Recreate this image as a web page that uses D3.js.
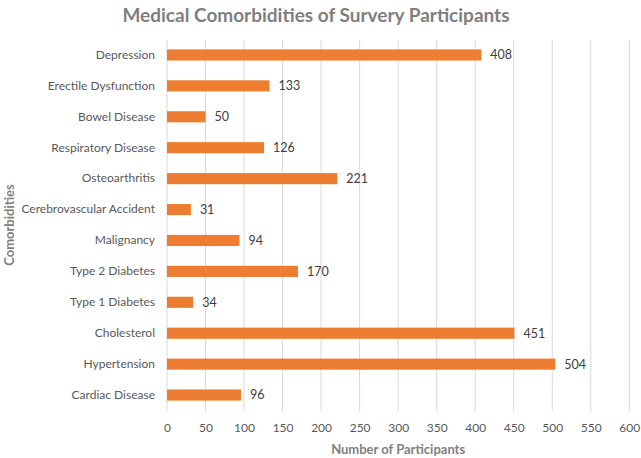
<!DOCTYPE html>
<html><head><meta charset="utf-8">
<script src="https://cdn.jsdelivr.net/npm/d3@7"></script>
<style>body{margin:0;background:#fff}text{font-family:Lato,"Open Sans",sans-serif}</style>
</head><body><svg id="c" width="641" height="458"></svg>
<script>
const categories = ["Depression","Erectile Dysfunction","Bowel Disease","Respiratory Disease","Osteoarthritis","Cerebrovascular Accident","Malignancy","Type 2 Diabetes","Type 1 Diabetes","Cholesterol","Hypertension","Cardiac Disease"];
const values = [408,133,50,126,221,31,94,170,34,451,504,96];
const xTicks = [0,50,100,150,200,250,300,350,400,450,500,550,600];
const title = "Medical Comorbidities of Survery Participants";
const xTitle = "Number of Participants";
const yTitle = "Comorbidities";

const svg = d3.select("#c");
const m = {l:167, r:12, t:40, b:48};
const x = d3.scaleLinear().domain([0,600]).range([m.l, 629.3]);
const y = d3.scaleBand().domain(categories).range([m.t-0.5, 410.5]).paddingInner(0.64).paddingOuter(0.32);

svg.append("g").selectAll("line").data(xTicks).join("line")
  .attr("x1",d=>x(d)).attr("x2",d=>x(d)).attr("y1",m.t).attr("y2",411)
  .attr("stroke","#d9d9d9").attr("stroke-width",1);

svg.append("g").selectAll("rect").data(values).join("rect")
  .attr("x",x(0)).attr("y",(d,i)=>y(categories[i]))
  .attr("width",d=>x(d)-x(0)).attr("height",y.bandwidth())
  .attr("fill","#ED7D31");

svg.append("g").selectAll("text").data(values).join("text")
  .attr("x",d=>x(d)+9).attr("y",(d,i)=>y(categories[i])+y.bandwidth()/2)
  .attr("dy","0.35em").attr("font-size",12.5).attr("fill","#404040").text(d=>d);

const ya = svg.append("g").attr("transform",`translate(${x(0)},0)`)
  .call(d3.axisLeft(y).tickSize(0).tickPadding(12));
ya.select(".domain").remove();
ya.selectAll("text").attr("font-size",12).attr("fill","#595959").style("font-family","Lato,'Open Sans',sans-serif");

const xa = svg.append("g").attr("transform",`translate(0,${411})`)
  .call(d3.axisBottom(x).tickValues(xTicks).tickSize(0).tickPadding(12));
xa.select(".domain").remove();
xa.selectAll("text").attr("font-size",12).attr("fill","#595959").style("font-family","Lato,'Open Sans',sans-serif");

svg.append("text").attr("x",316).attr("y",22).attr("text-anchor","middle")
  .attr("font-size",19).attr("font-weight","bold").attr("fill","#7f7f7f").text(title);
svg.append("text").attr("x",x(300)).attr("y",454).attr("text-anchor","middle")
  .attr("font-size",13).attr("font-weight","bold").attr("fill","#7f7f7f").text(xTitle);
svg.append("text").attr("transform",`translate(14,225) rotate(-90)`).attr("text-anchor","middle")
  .attr("font-size",13).attr("font-weight","bold").attr("fill","#7f7f7f").text(yTitle);
</script></body></html>
